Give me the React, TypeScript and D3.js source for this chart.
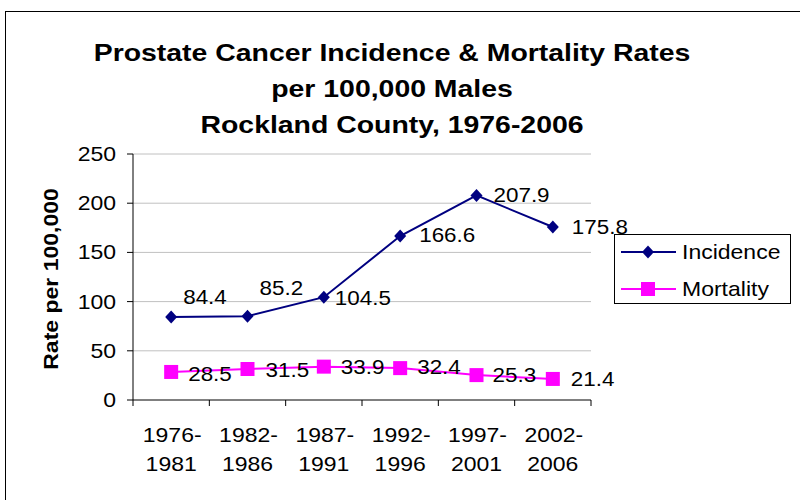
import React from "react";
import * as d3 from "d3";

const periods = ["1976-1981", "1982-1986", "1987-1991", "1992-1996", "1997-2001", "2002-2006"];
const incidence = [84.4, 85.2, 104.5, 166.6, 207.9, 175.8];
const mortality = [28.5, 31.5, 33.9, 32.4, 25.3, 21.4];
const yTicks = [0, 50, 100, 150, 200, 250];
const titleLines = [
  "Prostate Cancer Incidence & Mortality Rates",
  "per 100,000 Males",
  "Rockland County, 1976-2006",
];

// manual nudges for the value labels (Excel-style dragged labels)
const incidenceLabelShift = [[12, -13], [12, -21], [11, 8], [19, 6], [17, 7], [19, 7]];
const mortalityLabelShift = [[17, 9], [18, 8], [17, 7], [17, 6], [16, 7], [18, 7]];

const FONT = "'Liberation Sans', Arial, sans-serif";
const SX = 1.15; // the source text renders a bit wider than Arial

const NAVY = "#000080";
const MAGENTA = "#ff00ff";

function Label({ x, y, size, anchor = "start", weight = "normal", rotate = 0, sx = SX, children }: any) {
  const rot = rotate ? ` rotate(${rotate})` : "";
  return (
    <text
      transform={`translate(${x},${y})${rot} scale(${sx},1)`}
      fontFamily={FONT}
      fontSize={size}
      fontWeight={weight}
      textAnchor={anchor}
      fill="#000"
    >
      {children}
    </text>
  );
}

function Diamond({ x, y, r = 6.5 }: any) {
  return <path d={`M${x},${y - r}L${x + r - 0.5},${y}L${x},${y + r}L${x - r + 0.5},${y}Z`} fill={NAVY} />;
}

function Square({ x, y, s = 14 }: any) {
  return <rect x={x - s / 2} y={y - s / 2} width={s} height={s} fill={MAGENTA} />;
}

export default function App() {
  const width = 800;
  const height = 500;
  const plot = { left: 133, right: 591, top: 154, bottom: 400 };

  const x = d3.scaleBand<string>().domain(periods).range([plot.left, plot.right]).padding(0);
  const y = d3.scaleLinear().domain([0, 250]).range([plot.bottom, plot.top]);
  const cx = (i: number) => (x(periods[i]) as number) + x.bandwidth() / 2;

  const line = d3
    .line<number>()
    .x((_, i) => cx(i))
    .y((d) => y(d));

  const boundaries = periods.map((p) => x(p) as number).concat([plot.right]);

  return (
    <svg
      width={width}
      height={height}
      style={{ position: "absolute", left: 0, top: 0, background: "#fff" }}
    >
      <rect x={0} y={0} width={width} height={height} fill="#fff" />
      {/* chart area border */}
      <rect x={5.5} y={11.5} width={900} height={700} fill="none" stroke="#000" strokeWidth={1} />

      {/* title */}
      {titleLines.map((t, i) => (
        <Label key={t} x={392} y={61 + i * 36} size={24.5} weight="bold" anchor="middle" sx={1.16}>
          {t}
        </Label>
      ))}

      {/* gridlines */}
      {yTicks
        .filter((t) => t > 0)
        .map((t) => (
          <line key={t} x1={plot.left} x2={plot.right} y1={y(t)} y2={y(t)} stroke="#c0c0c0" strokeWidth={1} />
        ))}

      {/* axes */}
      <line x1={plot.left} x2={plot.left} y1={plot.top} y2={plot.bottom} stroke="#000" />
      <line x1={plot.left} x2={plot.right} y1={plot.bottom} y2={plot.bottom} stroke="#000" />
      {yTicks.map((t) => (
        <g key={t}>
          <line x1={plot.left - 6} x2={plot.left} y1={y(t)} y2={y(t)} stroke="#000" />
          <Label x={116} y={y(t) + 7} size={20} anchor="end">
            {t}
          </Label>
        </g>
      ))}
      {boundaries.map((b, i) => (
        <line key={i} x1={b} x2={b} y1={plot.bottom} y2={plot.bottom + 6} stroke="#000" />
      ))}
      {periods.map((p, i) => {
        const [a, b] = p.split("-");
        return (
          <g key={p}>
            <Label x={cx(i) + 1} y={442} size={20} anchor="middle">
              {a + "-"}
            </Label>
            <Label x={cx(i)} y={471} size={20} anchor="middle">
              {b}
            </Label>
          </g>
        );
      })}

      <Label x={58} y={279} size={20} weight="bold" anchor="middle" rotate={-90}>
        Rate per 100,000
      </Label>

      {/* series */}
      <path d={line(incidence) as string} fill="none" stroke={NAVY} strokeWidth={2} />
      <path d={line(mortality) as string} fill="none" stroke={MAGENTA} strokeWidth={2} />
      {incidence.map((v, i) => (
        <Diamond key={i} x={cx(i)} y={y(v)} />
      ))}
      {mortality.map((v, i) => (
        <Square key={i} x={cx(i)} y={y(v)} />
      ))}
      {incidence.map((v, i) => (
        <Label key={i} x={cx(i) + incidenceLabelShift[i][0]} y={y(v) + incidenceLabelShift[i][1]} size={19.5}>
          {v.toFixed(1)}
        </Label>
      ))}
      {mortality.map((v, i) => (
        <Label key={i} x={cx(i) + mortalityLabelShift[i][0]} y={y(v) + mortalityLabelShift[i][1]} size={19.5}>
          {v.toFixed(1)}
        </Label>
      ))}

      {/* legend */}
      <g>
        <rect x={614.5} y={234.5} width={176} height={69} fill="#fff" stroke="#000" />
        <line x1={621} x2={676} y1={252} y2={252} stroke={NAVY} strokeWidth={2} />
        <Diamond x={648} y={252} />
        <Label x={682} y={259} size={20}>
          Incidence
        </Label>
        <line x1={621} x2={676} y1={289} y2={289} stroke={MAGENTA} strokeWidth={2} />
        <Square x={648} y={289} />
        <Label x={682} y={296} size={20}>
          Mortality
        </Label>
      </g>
    </svg>
  );
}
